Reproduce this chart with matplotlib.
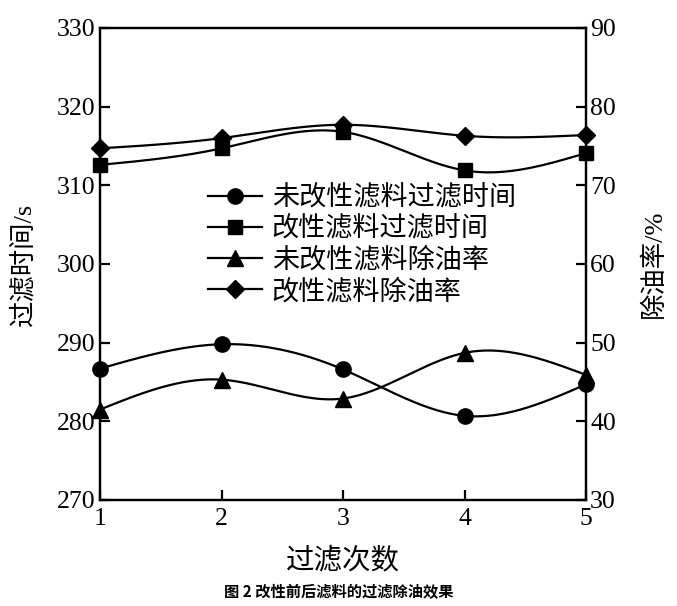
import numpy as np
import matplotlib
matplotlib.use("Agg")
import matplotlib.pyplot as plt

plt.rcParams['font.family'] = ['Liberation Serif', 'Noto Sans CJK SC']
plt.rcParams['axes.unicode_minus'] = False

# data
runs = [1, 2, 3, 4, 5]
time_raw = [286.7, 289.8, 286.6, 280.7, 284.7]      # 未改性滤料过滤时间 (s)
time_mod = [312.6, 314.7, 316.8, 311.9, 314.1]      # 改性滤料过滤时间 (s)
rate_raw = [41.5, 45.3, 42.9, 48.7, 45.9]           # 未改性滤料除油率 (%)
rate_mod = [74.7, 76.0, 77.7, 76.3, 76.4]           # 改性滤料除油率 (%)

labels = ['未改性滤料过滤时间', '改性滤料过滤时间', '未改性滤料除油率', '改性滤料除油率']


def smooth(xs, ys, n=200):
    # natural cubic spline through the points
    x = np.asarray(xs, float)
    y = np.asarray(ys, float)
    k = len(x)
    h = np.diff(x)
    A = np.zeros((k, k))
    b = np.zeros(k)
    A[0, 0] = A[-1, -1] = 1
    for i in range(1, k - 1):
        A[i, i - 1] = h[i - 1]
        A[i, i] = 2 * (h[i - 1] + h[i])
        A[i, i + 1] = h[i]
        b[i] = 6 * ((y[i + 1] - y[i]) / h[i] - (y[i] - y[i - 1]) / h[i - 1])
    m = np.linalg.solve(A, b)
    xx = np.linspace(x[0], x[-1], n)
    idx = np.clip(np.searchsorted(x, xx) - 1, 0, k - 2)
    t0 = x[idx]
    t1 = x[idx + 1]
    hh = t1 - t0
    yy = (m[idx] * (t1 - xx) ** 3 / (6 * hh) + m[idx + 1] * (xx - t0) ** 3 / (6 * hh)
          + (y[idx] / hh - m[idx] * hh / 6) * (t1 - xx)
          + (y[idx + 1] / hh - m[idx + 1] * hh / 6) * (xx - t0))
    return xx, yy


fig = plt.figure(figsize=(6.77, 6.06), dpi=100)
ax = fig.add_axes([100 / 677, 106 / 606, 486 / 677, 472 / 606])
ax2 = ax.twinx()

lw = 1.6
handles = []
for axis, ys, mk, ms, lab in [(ax, time_raw, 'o', 11, labels[0]),
                              (ax, time_mod, 's', 10, labels[1]),
                              (ax2, rate_raw, '^', 11, labels[2]),
                              (ax2, rate_mod, 'D', 9, labels[3])]:
    xx, yy = smooth(runs, ys)
    axis.plot(xx, yy, color='black', lw=lw, clip_on=False)
    axis.plot(runs, ys, linestyle='none', marker=mk, ms=ms, color='black', clip_on=False)
    h, = ax.plot([], [], color='black', lw=lw, marker=mk, ms=ms)
    handles.append(h)

ax.set_xlim(1, 5)
ax.set_ylim(270, 330)
ax2.set_ylim(30, 90)
ax.set_xticks(runs)
ax.set_yticks(np.arange(270, 331, 10))
ax2.set_yticks(np.arange(30, 91, 10))

for a in (ax, ax2):
    for s in a.spines.values():
        s.set_linewidth(1.6)
    a.tick_params(direction='in', length=7, width=1.6, labelsize=18.5, pad=4)
ax.tick_params(axis='x', pad=6)
ax.tick_params(axis='y', pad=3)
ax2.tick_params(axis='y', pad=3)

ax.set_xlabel('过滤次数', fontsize=20.5, labelpad=12)
ax.set_ylabel('过滤时间/s', fontsize=19, labelpad=16)
ax2.set_ylabel('除油率/%', fontsize=19, labelpad=18)

fig.legend(handles, labels, loc='upper left', bbox_to_anchor=(208 / 677, 1 - 186 / 606),
           frameon=False, fontsize=19.5, handlelength=2.0, handletextpad=0.35,
           labelspacing=0.2, borderpad=0, borderaxespad=0)

fig.text(0.5, 1 - 592 / 606, '图 2 改性前后滤料的过滤除油效果', ha='center', va='center',
         fontsize=11, fontweight='bold', family=['Noto Sans CJK SC'])

fig.savefig('out.png', dpi=100)
